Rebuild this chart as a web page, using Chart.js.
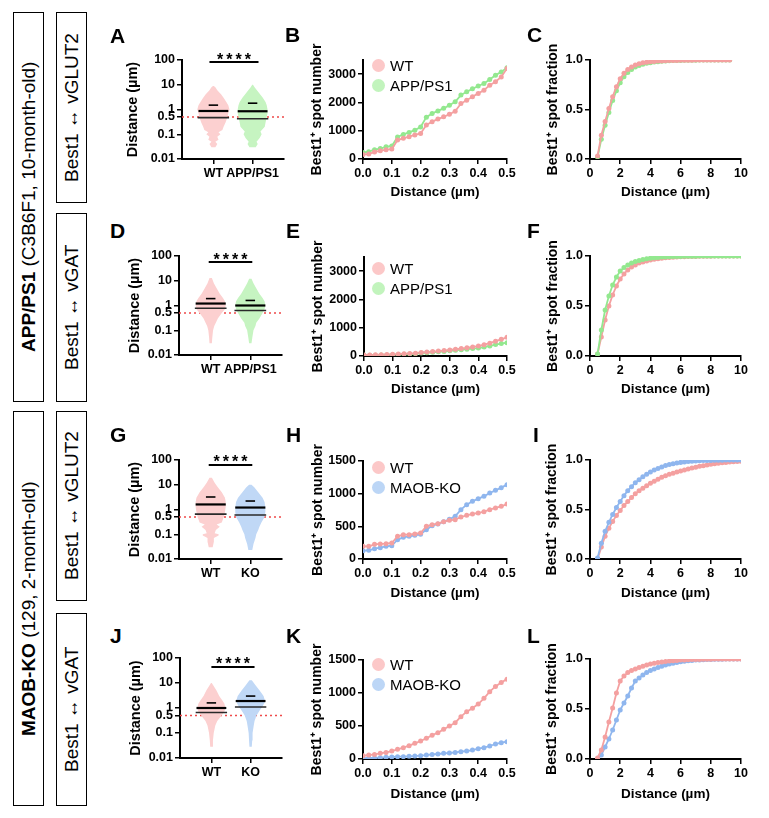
<!DOCTYPE html>
<html>
<head>
<meta charset="utf-8">
<script src="https://cdn.jsdelivr.net/npm/chart.js@4.4.1/dist/chart.umd.min.js"></script>
<style>
  body { margin: 0; width: 769px; height: 818px; position: relative; overflow: hidden; background: #fff;
         font-family: "Liberation Sans", Arial, Helvetica, sans-serif; color: #000; }
  canvas { position: absolute; }
  .letter { position: absolute; font-weight: bold; font-size: 21px; line-height: 21px; z-index: 2; }
  .box { position: absolute; box-sizing: border-box; border: 1.5px solid #000; width: 31px;
         writing-mode: vertical-rl; transform: rotate(180deg); display: flex; align-items: center;
         justify-content: center; font-size: 19px; white-space: nowrap; }
  .legend { position: absolute; font-size: 15px; line-height: 20px; z-index: 2; }
  .legend .dot { display: inline-block; width: 13px; height: 13px; border-radius: 50%;
                 vertical-align: -1px; margin-right: 5px; }
</style>
</head>
<body>

<div class="box" style="left:13px;top:12px;height:390px"><span><b>APP/PS1</b> (C3B6F1, 10-month-old)</span></div>
<div class="box" style="left:56px;top:12px;height:191px">Best1 ↔ vGLUT2</div>
<div class="box" style="left:56px;top:213px;height:189px">Best1 ↔ vGAT</div>
<div class="box" style="left:13px;top:411px;height:395px"><span><b>MAOB-KO</b> (129, 2-month-old)</span></div>
<div class="box" style="left:56px;top:411px;height:190px">Best1 ↔ vGLUT2</div>
<div class="box" style="left:56px;top:613px;height:193px">Best1 ↔ vGAT</div>

<div class="letter" style="left:110px;top:25px">A</div>
<div class="letter" style="left:285px;top:24px">B</div>
<div class="letter" style="left:527px;top:24px">C</div>
<div class="letter" style="left:110px;top:220px">D</div>
<div class="letter" style="left:286px;top:220px">E</div>
<div class="letter" style="left:527px;top:220px">F</div>
<div class="letter" style="left:110px;top:424px">G</div>
<div class="letter" style="left:286px;top:424px">H</div>
<div class="letter" style="left:533px;top:424px">I</div>
<div class="letter" style="left:110px;top:625px">J</div>
<div class="letter" style="left:286px;top:625px">K</div>
<div class="letter" style="left:527px;top:625px">L</div>

<div class="legend" style="left:372px;top:56px">
  <div><span class="dot" style="background:#fcc8c8"></span>WT</div>
  <div><span class="dot" style="background:#c2f4bd"></span>APP/PS1</div>
</div>
<div class="legend" style="left:372px;top:259px">
  <div><span class="dot" style="background:#fcc8c8"></span>WT</div>
  <div><span class="dot" style="background:#c2f4bd"></span>APP/PS1</div>
</div>
<div class="legend" style="left:372px;top:458px">
  <div><span class="dot" style="background:#fcc8c8"></span>WT</div>
  <div><span class="dot" style="background:#bcd6f6"></span>MAOB-KO</div>
</div>
<div class="legend" style="left:372px;top:655px">
  <div><span class="dot" style="background:#fcc8c8"></span>WT</div>
  <div><span class="dot" style="background:#bcd6f6"></span>MAOB-KO</div>
</div>

<script>
// ---------- data ----------
const groupsApp = ['WT', 'APP/PS1'];
const groupsMaob = ['WT', 'KO'];
const violinTicks = [0.01, 0.1, 0.5, 1, 10, 100];
const countTicksApp = [0, 1000, 2000, 3000];
const countTicksMaob = [0, 500, 1000, 1500];
const fracTicks = [0, 0.5, 1];
const shortDistTicks = [0, 0.1, 0.2, 0.3, 0.4, 0.5];
const longDistTicks = [0, 2, 4, 6, 8, 10];
const cutoff = 0.5;

// x positions of the spot-number curves (µm)
const lineX = [0, 0.02, 0.04, 0.06, 0.08, 0.1, 0.12, 0.14, 0.16, 0.18, 0.2, 0.22, 0.24,
               0.26, 0.28, 0.3, 0.32, 0.34, 0.36, 0.38, 0.4, 0.42, 0.44, 0.46, 0.48, 0.5];
// x positions of the cumulative curves (µm)
const cdfX = [0.5, 0.75, 1, 1.25, 1.5, 1.75, 2, 2.25, 2.5, 2.75, 3, 3.25, 3.5, 3.75, 4, 4.25,
              4.5, 4.75, 5, 5.25, 5.5, 5.75, 6, 6.25, 6.5, 6.75, 7, 7.25, 7.5, 7.75, 8, 8.25,
              8.5, 8.75, 9, 9.25, 9.5, 9.75, 10];

// A - violins (distance levels, half widths in group units, quartile/median marks)
const aWtLevels = [0.03, 0.04, 0.05, 0.06, 0.08, 0.1, 0.12, 0.15, 0.2, 0.3, 0.5, 0.7, 1, 1.5, 2, 3, 4, 6, 8, 9];
const aWtHalf = [0.05, 0.1, 0.05, 0.13, 0.1, 0.18, 0.13, 0.23, 0.26, 0.31, 0.36, 0.38, 0.41, 0.38, 0.33, 0.26, 0.2, 0.1, 0.05, 0.01];
const aWtMarks = [1.5, 0.87, 0.47];
const aAppLevels = [0.03, 0.04, 0.05, 0.07, 0.1, 0.13, 0.2, 0.3, 0.5, 0.7, 1, 1.5, 2, 3, 5, 8, 10];
const aAppHalf = [0.08, 0.13, 0.1, 0.18, 0.23, 0.2, 0.31, 0.33, 0.36, 0.38, 0.38, 0.36, 0.33, 0.26, 0.15, 0.05, 0.01];
const aAppMarks = [1.8, 0.85, 0.42];

// B
const bWt = [160, 175, 250, 290, 330, 350, 670, 730, 790, 850, 905, 1200, 1320, 1410, 1490, 1580,
             1690, 1960, 2080, 2200, 2320, 2430, 2610, 2730, 2900, 3200];
const bApp = [230, 260, 330, 370, 430, 460, 780, 870, 940, 1020, 1130, 1480, 1610, 1700, 1790, 1900,
              2020, 2260, 2380, 2480, 2580, 2670, 2810, 2960, 3080, 3230];

// C
const cWt = [0.03, 0.24, 0.38, 0.51, 0.63, 0.73, 0.81, 0.865, 0.905, 0.93, 0.95, 0.962, 0.971, 0.977,
             0.982, 0.986, 0.989, 0.991, 0.993, 0.994, 0.995, 0.996, 0.997, 0.997, 0.998, 0.998,
             0.999, 0.999, 0.999, 0.999, 1, 1, 1, 1, 1, 1];
const cApp = [0.02, 0.2, 0.34, 0.47, 0.59, 0.69, 0.77, 0.83, 0.875, 0.905, 0.93, 0.945, 0.957, 0.966,
              0.973, 0.979, 0.983, 0.987, 0.99, 0.992, 0.994, 0.995, 0.996, 0.997, 0.997, 0.998,
              0.998, 0.999, 0.999, 0.999, 1, 1, 1, 1, 1, 1];

// D
const dWtLevels = [0.03, 0.05, 0.1, 0.15, 0.2, 0.3, 0.5, 0.7, 1, 1.5, 2, 3, 5, 8, 13];
const dWtHalf = [0.03, 0.04, 0.06, 0.09, 0.13, 0.18, 0.28, 0.36, 0.38, 0.36, 0.31, 0.23, 0.15, 0.08, 0.03];
const dWtMarks = [1.9, 1.2, 0.77];
const dAppLevels = [0.03, 0.05, 0.1, 0.15, 0.2, 0.3, 0.5, 0.7, 1, 1.5, 2, 3, 5, 8, 12];
const dAppHalf = [0.03, 0.05, 0.08, 0.13, 0.15, 0.23, 0.31, 0.36, 0.38, 0.36, 0.31, 0.23, 0.15, 0.08, 0.03];
const dAppMarks = [1.6, 1.0, 0.63];

// E
const eWt = [35, 38, 42, 47, 53, 60, 68, 77, 88, 100, 125, 140, 156, 173, 192, 215, 238, 262, 290,
             320, 352, 400, 455, 525, 590, 660];
const eApp = [25, 27, 30, 34, 39, 45, 52, 60, 70, 80, 105, 118, 132, 147, 163, 185, 203, 222, 242,
              262, 282, 315, 355, 405, 440, 470];

// F
const fWt = [0.02, 0.19, 0.36, 0.5, 0.61, 0.7, 0.77, 0.82, 0.86, 0.89, 0.91, 0.93, 0.94, 0.95, 0.96,
             0.967, 0.973, 0.978, 0.982, 0.985, 0.988, 0.99, 0.992, 0.993, 0.994, 0.995, 0.996,
             0.997, 0.997, 0.998, 0.998, 0.999, 0.999, 0.999, 1, 1, 1, 1, 1];
const fApp = [0.02, 0.26, 0.46, 0.6, 0.71, 0.79, 0.85, 0.885, 0.91, 0.93, 0.945, 0.955, 0.965, 0.972,
              0.978, 0.982, 0.986, 0.989, 0.991, 0.993, 0.994, 0.995, 0.996, 0.997, 0.997, 0.998,
              0.998, 0.999, 0.999, 0.999, 1, 1, 1, 1, 1, 1, 1, 1, 1];

// G
const gWtLevels = [0.03, 0.05, 0.07, 0.09, 0.1, 0.11, 0.15, 0.2, 0.25, 0.3, 0.5, 0.8, 1.3, 2, 3, 5, 8, 12, 19];
const gWtHalf = [0.05, 0.08, 0.08, 0.2, 0.2, 0.1, 0.13, 0.23, 0.15, 0.28, 0.33, 0.36, 0.38, 0.38, 0.36, 0.28, 0.18, 0.1, 0.03];
const gWtMarks = [3.2, 1.6, 0.65];
const gKoLevels = [0.023, 0.04, 0.07, 0.1, 0.15, 0.2, 0.3, 0.5, 0.8, 1.2, 2, 3, 5, 8, 10];
const gKoHalf = [0.05, 0.08, 0.13, 0.15, 0.2, 0.23, 0.28, 0.36, 0.38, 0.38, 0.36, 0.31, 0.2, 0.1, 0.03];
const gKoMarks = [2.2, 1.2, 0.6];

// H
const hWt = [194, 194, 224, 230, 235, 245, 347, 372, 372, 383, 398, 500, 525, 541, 571, 592, 602,
             643, 668, 689, 704, 724, 755, 781, 806, 842];
const hKo = [128, 133, 158, 173, 194, 204, 296, 332, 347, 362, 378, 449, 510, 536, 571, 607, 653,
             755, 832, 883, 923, 959, 1010, 1051, 1092, 1138];

// I
const iWt = [0, 0.12, 0.23, 0.31, 0.38, 0.44, 0.49, 0.54, 0.58, 0.62, 0.66, 0.69, 0.715, 0.74, 0.765,
             0.785, 0.805, 0.825, 0.84, 0.855, 0.867, 0.879, 0.89, 0.9, 0.91, 0.92, 0.928, 0.936,
             0.943, 0.95, 0.956, 0.962, 0.967, 0.972, 0.976, 0.98, 0.983, 0.986, 0.988];
const iKo = [0.01, 0.16, 0.28, 0.37, 0.45, 0.52, 0.58, 0.64, 0.69, 0.73, 0.77, 0.8, 0.83, 0.855, 0.88,
             0.9, 0.915, 0.93, 0.945, 0.955, 0.963, 0.97, 0.976, 0.981, 0.985, 0.988, 0.99, 0.992,
             0.994, 0.995, 0.996, 0.997, 0.998, 0.998, 0.999, 0.999, 1, 1, 1];

// J
const jWtLevels = [0.028, 0.05, 0.1, 0.2, 0.3, 0.5, 0.7, 1, 1.5, 2, 3, 5, 8, 10];
const jWtHalf = [0.03, 0.04, 0.06, 0.1, 0.15, 0.26, 0.33, 0.36, 0.33, 0.28, 0.2, 0.13, 0.05, 0.01];
const jWtMarks = [1.6, 1.0, 0.66];
const jKoLevels = [0.028, 0.05, 0.1, 0.2, 0.3, 0.5, 0.8, 1.2, 1.6, 2.1, 3, 5, 8, 13];
const jKoHalf = [0.03, 0.04, 0.05, 0.08, 0.1, 0.15, 0.23, 0.31, 0.35, 0.36, 0.33, 0.23, 0.13, 0.03];
const jKoMarks = [3.0, 1.9, 1.1];

// K
const kWt = [50, 60, 70, 86, 100, 121, 146, 172, 202, 237, 273, 313, 359, 399, 449, 500, 550, 641,
             717, 768, 833, 919, 1020, 1100, 1160, 1210];
const kKo = [10, 15, 15, 20, 25, 30, 35, 35, 40, 45, 50, 60, 70, 76, 86, 91, 100, 111, 121, 136, 156,
             172, 197, 227, 247, 263];

// L
const lWt = [0.01, 0.09, 0.22, 0.37, 0.51, 0.66, 0.78, 0.83, 0.865, 0.885, 0.9, 0.915, 0.928, 0.94,
             0.95, 0.957, 0.964, 0.97, 0.975, 0.979, 0.983, 0.986, 0.989, 0.991, 0.993, 0.994, 0.995,
             0.996, 0.997, 0.998, 0.998, 0.999, 0.999, 0.999, 1, 1, 1, 1, 1];
const lKo = [0, 0.04, 0.12, 0.2, 0.29, 0.39, 0.49, 0.56, 0.63, 0.71, 0.78, 0.81, 0.84, 0.865, 0.885,
             0.9, 0.915, 0.928, 0.94, 0.95, 0.958, 0.966, 0.973, 0.978, 0.982, 0.986, 0.989, 0.991,
             0.993, 0.995, 0.996, 0.997, 0.998, 0.998, 0.999, 0.999, 1, 1, 1];

// ---------- colours ----------
const pink = '#f4a0a0', green = '#93e88f', blue = '#8fb6ee';
const pinkFill = '#fcd0d0', greenFill = '#c6f4c1', blueFill = '#c0d8f6';

// ---------- layout (chart area of each panel) ----------
const layout = {
  A: {x: 182, y: 60, w: 102, h: 99, yW: 58},
  B: {x: 363, y: 60, w: 144, h: 99, yW: 55},
  C: {x: 590, y: 60, w: 151, h: 99, yW: 46},
  D: {x: 179, y: 256, w: 103, h: 99, yW: 53},
  E: {x: 364, y: 257, w: 143, h: 99, yW: 55},
  F: {x: 590, y: 256, w: 151, h: 100, yW: 46},
  G: {x: 179, y: 460, w: 103, h: 99, yW: 53},
  H: {x: 363, y: 461, w: 144, h: 98, yW: 54},
  I: {x: 590, y: 460, w: 151, h: 99, yW: 47},
  J: {x: 180, y: 658, w: 102, h: 100, yW: 53},
  K: {x: 363, y: 660, w: 144, h: 99, yW: 55},
  L: {x: 590, y: 659, w: 151, h: 100, yW: 47}
};
const xMin = 0.2, xMax = 2.8;

Chart.defaults.font.family = '"Liberation Sans", Arial, Helvetica, sans-serif';
Chart.defaults.color = '#000';
Chart.defaults.animation = false;
Chart.defaults.events = [];
Chart.defaults.plugins.legend.display = false;
Chart.defaults.plugins.tooltip.enabled = false;

const tickFont = {size: 12.5, weight: 'bold'};
const xTitleFont = {size: 13.5, weight: 'bold'};

function makeCanvas(g, padT, padR, xH) {
  const c = document.createElement('canvas');
  const w = g.yW + g.w + padR, h = padT + g.h + xH;
  c.width = w;
  c.height = h;
  c.style.left = (g.x - g.yW) + 'px';
  c.style.top = (g.y - padT) + 'px';
  document.body.appendChild(c);
  return {canvas: c, padding: {left: 0, top: padT, right: padR, bottom: 0}};
}

function axisLook() {
  return {
    grid: {drawOnChartArea: false, color: '#000', lineWidth: 1.5, tickWidth: 1.5, tickLength: 5},
    border: {display: true, color: '#000', width: 2}
  };
}

function fixedTicks(list) {
  return (s) => { s.ticks = list.map(v => ({value: v})); };
}

// y title drawn without the width limit Chart.js puts on it (titles are taller than the plots)
function yTitlePlugin(text, size) {
  return {
    id: 'ytitle',
    afterDraw(chart) {
      const {ctx, chartArea} = chart;
      ctx.save();
      ctx.font = 'bold ' + size + 'px "Liberation Sans", Arial, sans-serif';
      ctx.fillStyle = '#000';
      ctx.textAlign = 'center';
      ctx.textBaseline = 'middle';
      ctx.translate(9, (chartArea.top + chartArea.bottom) / 2);
      ctx.rotate(-Math.PI / 2);
      ctx.fillText(text, 0, 0);
      ctx.restore();
    }
  };
}

function violinSets(c, levels, half, marks, color) {
  const right = levels.map((v, i) => ({x: c + half[i], y: v}));
  const left = levels.map((v, i) => ({x: c - half[i], y: v})).reverse();
  const sets = [{data: right.concat(left), backgroundColor: color, borderWidth: 0,
                 pointRadius: 0, fill: 'shape', order: 2}];
  const lens = [0.12, 0.38, 0.4];
  marks.forEach((m, i) => {
    sets.push({data: [{x: c - lens[i], y: m}, {x: c + lens[i], y: m}],
               borderColor: i === 2 ? '#2a2a2a' : '#000', borderWidth: i === 1 ? 2.2 : 1.6,
               pointRadius: 0, fill: false, order: 0});
  });
  return sets;
}

function starPlugin(bx, by) {
  return {
    id: 'stars',
    afterDatasetsDraw(chart) {
      const {ctx, scales: {x, y}} = chart;
      ctx.save();
      ctx.font = 'bold 16px "Liberation Sans", Arial, sans-serif';
      ctx.letterSpacing = '3px';
      ctx.textAlign = 'center';
      ctx.fillStyle = '#000';
      ctx.fillText('****', x.getPixelForValue((bx[0] + bx[1]) / 2) + 1.5, y.getPixelForValue(by) + 2.5);
      ctx.restore();
    }
  };
}

function violinPanel(g, groups, violins, bracketX, bracketY) {
  const {canvas, padding} = makeCanvas(g, 16, 6, 26);
  const sets = [];
  violins.forEach((v, i) => sets.push(...violinSets(i + 1, v.levels, v.half, v.marks, v.color)));
  sets.push({data: [{x: xMin, y: cutoff}, {x: xMax, y: cutoff}], borderColor: '#ee4a4a',
             borderWidth: 1.5, borderDash: [2, 3], pointRadius: 0, fill: false, order: 3});
  sets.push({data: bracketX.map(x => ({x, y: bracketY})), borderColor: '#000', borderWidth: 2,
             pointRadius: 0, fill: false, order: 0});
  new Chart(canvas, {
    type: 'line',
    data: {datasets: sets},
    options: {
      responsive: false,
      layout: {padding},
      scales: {
        x: {
          type: 'linear', min: xMin, max: xMax, ...axisLook(),
          afterBuildTicks: fixedTicks([1, 2]),
          afterFit: s => { s.height = 26; },
          ticks: {font: tickFont, color: '#000', padding: 2, autoSkip: false, maxRotation: 0,
                  callback: v => groups[v - 1]}
        },
        y: {
          type: 'logarithmic', min: 0.01, max: 100, ...axisLook(),
          afterBuildTicks: fixedTicks(violinTicks),
          afterFit: s => { s.width = g.yW; },
          ticks: {font: tickFont, color: '#000', padding: 2, autoSkip: false, callback: v => String(v)}
        }
      }
    },
    plugins: [starPlugin(bracketX, bracketY), yTitlePlugin('Distance (µm)', 14.5)]
  });
}

function curvePanel(g, xs, series, colors, xTicks, xTop, xFmt, yTicks, yTop, yFmt, yTitle, xH) {
  const {canvas, padding} = makeCanvas(g, 22, 12, xH);
  const sets = series.map((vals, k) => ({
    data: vals.map((v, i) => ({x: xs[i], y: v})),
    borderColor: colors[k], backgroundColor: colors[k], borderWidth: 1.8,
    pointRadius: 2.5, pointBorderWidth: 0, pointBackgroundColor: colors[k], fill: false, order: k
  }));
  new Chart(canvas, {
    type: 'line',
    data: {datasets: sets},
    options: {
      responsive: false,
      layout: {padding},
      scales: {
        x: {
          type: 'linear', min: 0, max: xTop, ...axisLook(),
          afterBuildTicks: fixedTicks(xTicks),
          afterFit: s => { s.height = xH; },
          ticks: {font: tickFont, color: '#000', padding: 2, autoSkip: false, maxRotation: 0, callback: xFmt},
          title: {display: true, text: 'Distance (µm)', font: xTitleFont, color: '#000', padding: 0}
        },
        y: {
          type: 'linear', min: 0, max: yTop, ...axisLook(),
          afterBuildTicks: fixedTicks(yTicks),
          afterFit: s => { s.width = g.yW; },
          ticks: {font: tickFont, color: '#000', padding: 2, autoSkip: false, callback: yFmt}
        }
      }
    },
    plugins: [yTitlePlugin(yTitle, 14)]
  });
}

const fmt1 = v => Number(v).toFixed(1);
const fmt0 = v => String(v);
const numTitle = 'Best1⁺ spot number';
const fracTitle = 'Best1⁺ spot fraction';

// row 1 : APP/PS1, vGLUT2
violinPanel(layout.A, groupsApp, [
  {levels: aWtLevels, half: aWtHalf, marks: aWtMarks, color: pinkFill},
  {levels: aAppLevels, half: aAppHalf, marks: aAppMarks, color: greenFill}
], [0.9, 2.15], 83);
curvePanel(layout.B, lineX, [bWt, bApp], [pink, green], shortDistTicks, 0.5, fmt1,
           countTicksApp, 3500, fmt0, numTitle, 41);
curvePanel(layout.C, cdfX, [cWt, cApp], [pink, green], longDistTicks, 10, fmt0,
           fracTicks, 1, fmt1, fracTitle, 41);

// row 2 : APP/PS1, vGAT
violinPanel(layout.D, groupsApp, [
  {levels: dWtLevels, half: dWtHalf, marks: dWtMarks, color: pinkFill},
  {levels: dAppLevels, half: dAppHalf, marks: dAppMarks, color: greenFill}
], [0.95, 2.05], 57);
curvePanel(layout.E, lineX, [eWt, eApp], [pink, green], shortDistTicks, 0.5, fmt1,
           countTicksApp, 3500, fmt0, numTitle, 41);
curvePanel(layout.F, cdfX, [fApp, fWt], [green, pink], longDistTicks, 10, fmt0,
           fracTicks, 1, fmt1, fracTitle, 41);

// row 3 : MAOB-KO, vGLUT2
violinPanel(layout.G, groupsMaob, [
  {levels: gWtLevels, half: gWtHalf, marks: gWtMarks, color: pinkFill},
  {levels: gKoLevels, half: gKoHalf, marks: gKoMarks, color: blueFill}
], [0.95, 2.05], 63);
curvePanel(layout.H, lineX, [hWt, hKo], [pink, blue], shortDistTicks, 0.5, fmt1,
           countTicksMaob, 1500, fmt0, numTitle, 42);
curvePanel(layout.I, cdfX, [iKo, iWt], [blue, pink], longDistTicks, 10, fmt0,
           fracTicks, 1, fmt1, fracTitle, 42);

// row 4 : MAOB-KO, vGAT
violinPanel(layout.J, groupsMaob, [
  {levels: jWtLevels, half: jWtHalf, marks: jWtMarks, color: pinkFill},
  {levels: jKoLevels, half: jKoHalf, marks: jKoMarks, color: blueFill}
], [1.0, 2.1], 44);
curvePanel(layout.K, lineX, [kWt, kKo], [pink, blue], shortDistTicks, 0.5, fmt1,
           countTicksMaob, 1500, fmt0, numTitle, 43);
curvePanel(layout.L, cdfX, [lWt, lKo], [pink, blue], longDistTicks, 10, fmt0,
           fracTicks, 1, fmt1, fracTitle, 43);
</script>
</body>
</html>
